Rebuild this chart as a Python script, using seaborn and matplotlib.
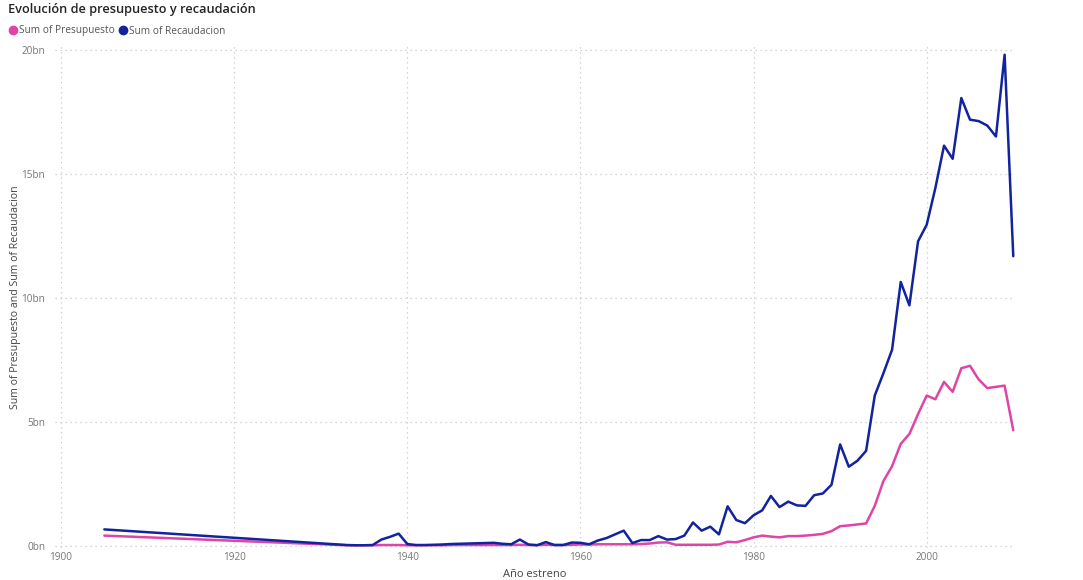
import numpy as np
import pandas as pd
import matplotlib
matplotlib.use("Agg")
import matplotlib.pyplot as plt
import matplotlib.ticker as plticker
from matplotlib.lines import Line2D
import seaborn as sns

# years present in the data
years = [1905] + list(range(1933, 2011))

# values in billions
presupuesto = [
    0.40,
    0.01, 0.01, 0.01, 0.01, 0.02, 0.02, 0.02, 0.01,              # 1933-1940
    0.01, 0.01, 0.01, 0.01, 0.02, 0.02, 0.02, 0.02, 0.02, 0.02,  # 1941-1950
    0.02, 0.02, 0.03, 0.02, 0.02, 0.03, 0.02, 0.02, 0.03, 0.04,  # 1951-1960
    0.04, 0.05, 0.05, 0.05, 0.05, 0.05, 0.06, 0.08, 0.12, 0.13,  # 1961-1970
    0.03, 0.03, 0.03, 0.03, 0.03, 0.04, 0.15, 0.13, 0.22, 0.33,  # 1971-1980
    0.40, 0.36, 0.33, 0.38, 0.38, 0.40, 0.43, 0.47, 0.58, 0.78,  # 1981-1990
    0.81, 0.85, 0.89, 1.60, 2.60, 3.20, 4.10, 4.50, 5.30, 6.05,  # 1991-2000
    5.90, 6.60, 6.20, 7.15, 7.25, 6.70, 6.35, 6.40, 6.45, 4.65,  # 2001-2010
]
recaudacion = [
    0.65,
    0.02, 0.01, 0.01, 0.02, 0.24, 0.35, 0.48, 0.06,              # 1933-1940
    0.02, 0.02, 0.03, 0.04, 0.06, 0.07, 0.08, 0.09, 0.10, 0.11,  # 1941-1950
    0.07, 0.05, 0.24, 0.04, 0.01, 0.14, 0.02, 0.02, 0.12, 0.11,  # 1951-1960
    0.05, 0.20, 0.30, 0.45, 0.60, 0.10, 0.22, 0.22, 0.38, 0.24,  # 1961-1970
    0.26, 0.40, 0.93, 0.60, 0.76, 0.45, 1.58, 1.03, 0.90, 1.22,  # 1971-1980
    1.42, 2.00, 1.55, 1.77, 1.62, 1.60, 2.03, 2.10, 2.45, 4.08,  # 1981-1990
    3.18, 3.42, 3.82, 6.05, 6.95, 7.90, 10.63, 9.69, 12.27, 12.94,  # 1991-2000
    14.42, 16.13, 15.60, 18.05, 17.18, 17.12, 16.94, 16.50, 19.80, 11.67,  # 2001-2010
]
series_names = ["Sum of Presupuesto", "Sum of Recaudacion"]
series_colors = ["#E044A7", "#12239E"]

df = pd.DataFrame({
    "year": years * 2,
    "value": presupuesto + recaudacion,
    "series": [series_names[0]] * len(years) + [series_names[1]] * len(years),
})

sns.set_theme(style="white")
plt.rcParams["font.family"] = ["Open Sans", "DejaVu Sans"]

fig = plt.figure(figsize=(10.83, 5.8), dpi=100)
ax = fig.add_axes([55 / 1083, 32 / 580, 960 / 1083, 502 / 580])

sns.lineplot(
    data=df, x="year", y="value", hue="series",
    palette=dict(zip(series_names, series_colors)),
    linewidth=1.8, legend=False, ax=ax,
)

ax.set_xlim(1899.3, 2010.2)
ax.set_ylim(-0.1, 20.15)
ax.xaxis.set_major_locator(plticker.MultipleLocator(20))
ax.yaxis.set_major_locator(plticker.MultipleLocator(5))
ax.yaxis.set_major_formatter(plticker.FuncFormatter(lambda v, p: f"{v:.0f}bn"))
ax.grid(True, linestyle=(0, (1, 3)), color="#c8c8c8", linewidth=0.9)
for s in ax.spines.values():
    s.set_visible(False)
ax.tick_params(axis="both", length=0, labelsize=7.2, labelcolor="#777777")
ax.tick_params(axis="x", pad=3)
ax.tick_params(axis="y", pad=7)

ax.set_xlabel("Año estreno", fontsize=8, color="#444444", labelpad=4)
ax.set_ylabel("Sum of Presupuesto and Sum of Recaudacion", fontsize=7.6,
              color="#444444")
ax.yaxis.set_label_coords(-34 / 960, 0.5)

fig.text(8 / 1083, 1 - 9 / 580, "Evolución de presupuesto y recaudación",
         fontsize=9.2, color="#252423", va="center", ha="left",
         fontweight="semibold")

handles = [Line2D([], [], marker="o", linestyle="none", markersize=6,
                  markerfacecolor=c, markeredgecolor=c) for c in series_colors]
fig.legend(handles, series_names, loc="center left",
           bbox_to_anchor=(3 / 1083, 1 - 31 / 580), ncol=2, frameon=False,
           fontsize=7.3, labelcolor="#555555", handletextpad=0.1,
           columnspacing=0.2, borderaxespad=0, handlelength=1.1)

fig.savefig("out.png", dpi=100)
